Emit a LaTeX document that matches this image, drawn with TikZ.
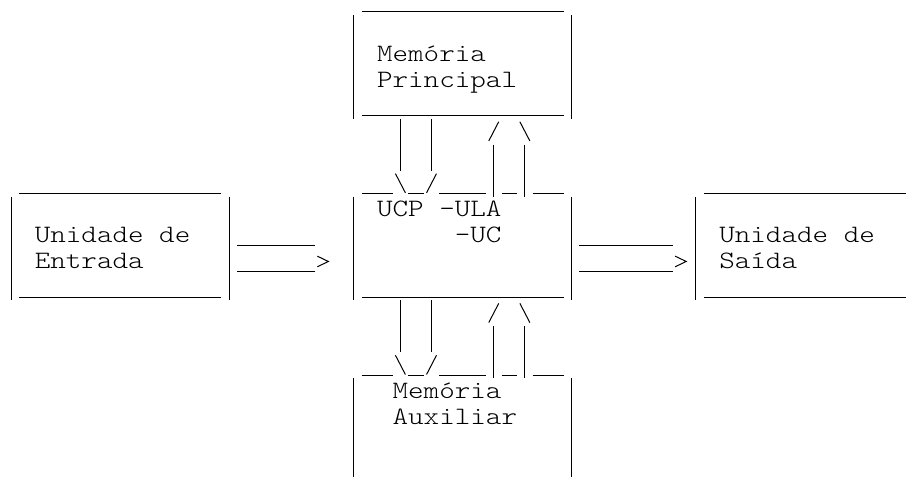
\documentclass[tikz,border=0pt]{standalone}
\usepackage{fontspec}
\newfontfamily\asciifont{lmmonolt10-regular.otf}[FakeStretch=1.1853]
\tikzset{
  asciistroke/.style={line width=1pt, black},
  asciitext/.style={anchor=base west, inner sep=0pt, outer sep=0pt,
    font=\asciifont\fontsize{25pt}{26pt}\selectfont},
}
% Character grid: x counts character cells, y counts text lines;
% y = r is the underscore level of line r.
% \rowunder{row}{first col}{last col}: a run of underscores
\newcommand\rowunder[3]{\draw[asciistroke] (#2,#1) -- ({#3+1},#1);}
% \colbar{col}{first row}{last row}: a run of vertical bars
\newcommand\colbar[3]{\draw[asciistroke] ({#1+0.5},{#2-0.873}) -- ({#1+0.5},{#3+0.127});}
% slashes and the arrow tip, one cell each
\newcommand\slashup[2]{\draw[asciistroke] ({#1+0.18},{#2-0.02}) -- ({#1+0.82},{#2-0.76});}
\newcommand\slashdown[2]{\draw[asciistroke] ({#1+0.18},{#2-0.76}) -- ({#1+0.82},{#2-0.02});}
\newcommand\tipright[2]{\draw[asciistroke] ({#1+0.16},{#2-0.58}) -- ({#1+0.87},{#2-0.375}) -- ({#1+0.16},{#2-0.17});}

\begin{document}
\begin{tikzpicture}
\useasboundingbox (0pt,0pt) rectangle (906pt,-477pt);
\fill[white] (0pt,0pt) rectangle (906pt,-477pt);
\begin{scope}[x=15.557pt, y=-25.95pt, shift={(3.7pt,-11.7pt)}]

  % Memoria Principal
  \rowunder{0}{23}{35}
  \colbar{22}{1}{4} \colbar{36}{1}{4}
  \rowunder{4}{23}{35}
  \node[asciitext] (mpA) at (24,1.904) {Memória};
  \node[asciitext] (mpB) at (24,2.904) {Principal};

  % two-way link Memoria Principal <-> UCP
  \colbar{25}{5}{6} \colbar{27}{5}{6}
  \slashdown{25}{7} \slashup{27}{7}
  \slashup{31}{5} \slashdown{33}{5}
  \colbar{31}{6}{7} \colbar{33}{6}{7}

  % UCP
  \rowunder{7}{23}{24} \rowunder{7}{26}{26} \rowunder{7}{28}{30}
  \rowunder{7}{32}{32} \rowunder{7}{34}{35}
  \colbar{22}{8}{11} \colbar{36}{8}{11}
  \rowunder{11}{23}{35}
  \node[asciitext] (ucp) at (24,7.904) {UCP -ULA};
  \node[asciitext] (uc)  at (29,8.904) {-UC};

  % Unidade de Entrada
  \rowunder{7}{1}{13}
  \colbar{0}{8}{11} \colbar{14}{8}{11}
  \rowunder{11}{1}{13}
  \node[asciitext] (inA) at (2,8.904) {Unidade de};
  \node[asciitext] (inB) at (2,9.904) {Entrada};

  % input -> UCP
  \rowunder{9}{15}{19} \rowunder{10}{15}{19} \tipright{20}{10}

  % UCP -> output
  \rowunder{9}{37}{42} \rowunder{10}{37}{42} \tipright{43}{10}

  % Unidade de Saida
  \rowunder{7}{45}{57}
  \colbar{44}{8}{11}
  \rowunder{11}{45}{57}
  \node[asciitext] (outA) at (46,8.904) {Unidade de};
  \node[asciitext] (outB) at (46,9.904) {Saída};

  % two-way link UCP <-> Memoria Auxiliar
  \colbar{25}{12}{13} \colbar{27}{12}{13}
  \slashdown{25}{14} \slashup{27}{14}
  \slashup{31}{12} \slashdown{33}{12}
  \colbar{31}{13}{14} \colbar{33}{13}{14}

  % Memoria Auxiliar
  \rowunder{14}{23}{24} \rowunder{14}{26}{26} \rowunder{14}{28}{30}
  \rowunder{14}{32}{32} \rowunder{14}{34}{35}
  \colbar{22}{15}{18} \colbar{36}{15}{18}
  \node[asciitext] (maA) at (25,14.904) {Memória};
  \node[asciitext] (maB) at (25,15.904) {Auxiliar};

\end{scope}
\end{tikzpicture}
\end{document}
